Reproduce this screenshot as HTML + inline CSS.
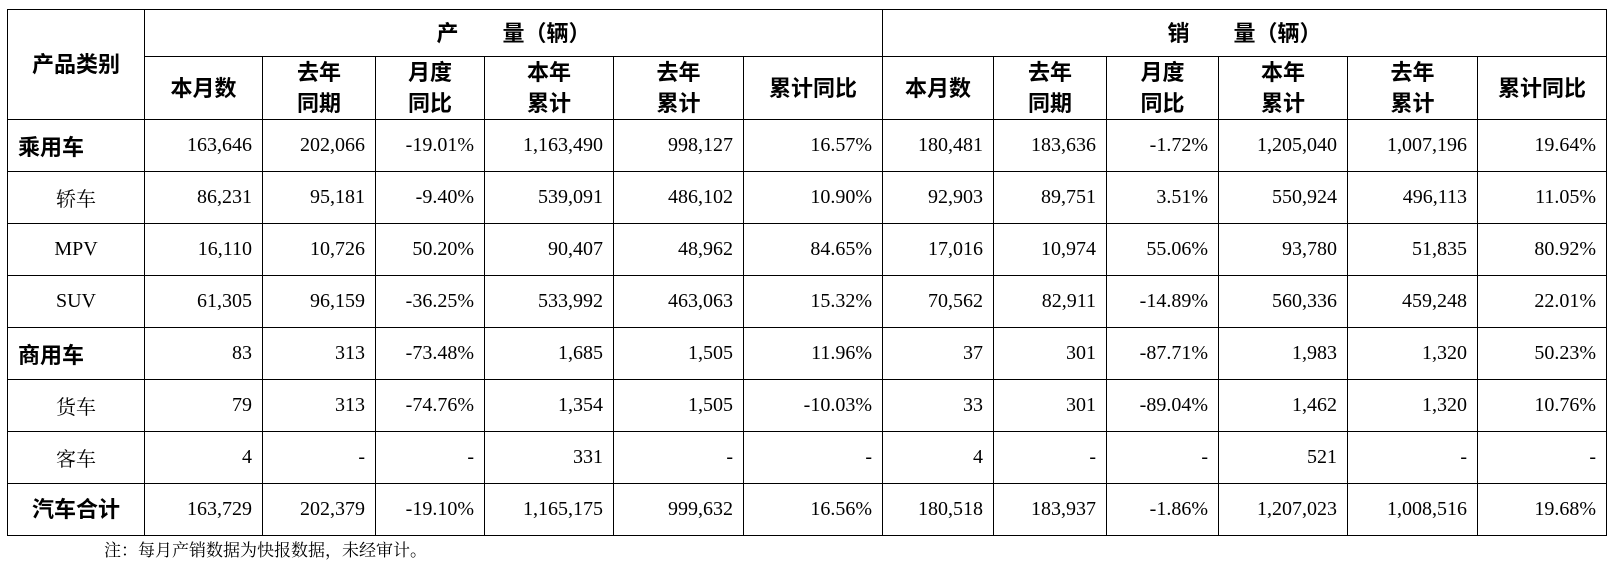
<!DOCTYPE html>
<html><head><meta charset="utf-8"><style>
body{margin:0;background:#fff;width:1616px;height:581px;overflow:hidden;position:relative}
table{position:absolute;left:7px;top:9px;border-collapse:collapse;table-layout:fixed;font-family:"Liberation Serif","Noto Serif CJK SC",serif;font-size:20px;color:#000}
td{border:1.5px solid #000;padding:0 10px 0 0;text-align:right;white-space:nowrap;overflow:hidden}
td.h{font-family:"Liberation Sans","Noto Sans CJK SC",sans-serif;font-weight:bold;text-align:center;padding:0;font-size:22px;line-height:31px}
td.c{text-align:left;padding-left:10px;font-family:"Liberation Sans","Noto Sans CJK SC",sans-serif;font-weight:bold;font-size:22px}
td.s{text-align:center;padding:0;font-family:"Liberation Serif","Noto Serif CJK SC",serif;font-size:20px}
tr.r{height:52px}
.note{position:absolute;left:104px;top:536px;font-family:"Liberation Serif","Noto Serif CJK SC",serif;font-size:17px}
</style></head><body>
<table>
<colgroup><col style="width:137px"><col style="width:118px"><col style="width:113px"><col style="width:109px"><col style="width:129px"><col style="width:130px"><col style="width:139px"><col style="width:111px"><col style="width:113px"><col style="width:112px"><col style="width:129px"><col style="width:130px"><col style="width:129px"></colgroup>
<tr style="height:47px"><td class="h" rowspan="2">产品类别</td><td class="h" colspan="6">产　　量（辆）</td><td class="h" colspan="6">销　　量（辆）</td></tr>
<tr style="height:63px"><td class="h">本月数</td><td class="h">去年<br>同期</td><td class="h">月度<br>同比</td><td class="h">本年<br>累计</td><td class="h">去年<br>累计</td><td class="h">累计同比</td><td class="h">本月数</td><td class="h">去年<br>同期</td><td class="h">月度<br>同比</td><td class="h">本年<br>累计</td><td class="h">去年<br>累计</td><td class="h">累计同比</td></tr>
<tr class="r"><td class="c">乘用车</td><td>163,646</td><td>202,066</td><td>-19.01%</td><td>1,163,490</td><td>998,127</td><td>16.57%</td><td>180,481</td><td>183,636</td><td>-1.72%</td><td>1,205,040</td><td>1,007,196</td><td>19.64%</td></tr>
<tr class="r"><td class="s">轿车</td><td>86,231</td><td>95,181</td><td>-9.40%</td><td>539,091</td><td>486,102</td><td>10.90%</td><td>92,903</td><td>89,751</td><td>3.51%</td><td>550,924</td><td>496,113</td><td>11.05%</td></tr>
<tr class="r"><td class="s">MPV</td><td>16,110</td><td>10,726</td><td>50.20%</td><td>90,407</td><td>48,962</td><td>84.65%</td><td>17,016</td><td>10,974</td><td>55.06%</td><td>93,780</td><td>51,835</td><td>80.92%</td></tr>
<tr class="r"><td class="s">SUV</td><td>61,305</td><td>96,159</td><td>-36.25%</td><td>533,992</td><td>463,063</td><td>15.32%</td><td>70,562</td><td>82,911</td><td>-14.89%</td><td>560,336</td><td>459,248</td><td>22.01%</td></tr>
<tr class="r"><td class="c">商用车</td><td>83</td><td>313</td><td>-73.48%</td><td>1,685</td><td>1,505</td><td>11.96%</td><td>37</td><td>301</td><td>-87.71%</td><td>1,983</td><td>1,320</td><td>50.23%</td></tr>
<tr class="r"><td class="s">货车</td><td>79</td><td>313</td><td>-74.76%</td><td>1,354</td><td>1,505</td><td>-10.03%</td><td>33</td><td>301</td><td>-89.04%</td><td>1,462</td><td>1,320</td><td>10.76%</td></tr>
<tr class="r"><td class="s">客车</td><td>4</td><td>-</td><td>-</td><td>331</td><td>-</td><td>-</td><td>4</td><td>-</td><td>-</td><td>521</td><td>-</td><td>-</td></tr>
<tr class="r"><td class="h">汽车合计</td><td>163,729</td><td>202,379</td><td>-19.10%</td><td>1,165,175</td><td>999,632</td><td>16.56%</td><td>180,518</td><td>183,937</td><td>-1.86%</td><td>1,207,023</td><td>1,008,516</td><td>19.68%</td></tr>
</table>
<div class="note">注：每月产销数据为快报数据，未经审计。</div>
</body></html>
